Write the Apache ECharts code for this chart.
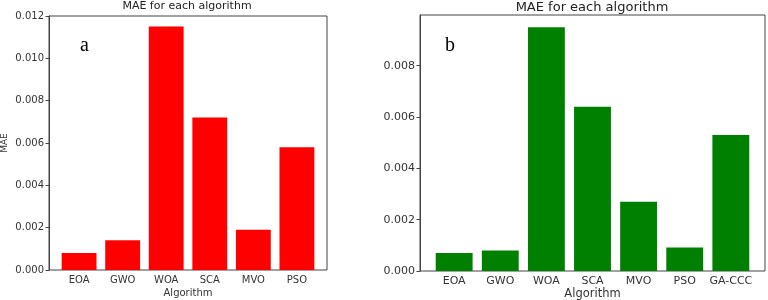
<!DOCTYPE html>
<html>
<head>
<meta charset="utf-8">
<script src="https://cdn.jsdelivr.net/npm/echarts@6/dist/echarts.min.js"></script>
<style>
  html, body { margin: 0; padding: 0; background: #fff; }
  #main { width: 768px; height: 300px; }
</style>
</head>
<body>
<div id="main"></div>
<script>
// panel a
var catsA = ['EOA', 'GWO', 'WOA', 'SCA', 'MVO', 'PSO'];
var maeA = [0.0008, 0.0014, 0.0115, 0.0072, 0.0019, 0.0058];
// panel b
var catsB = ['EOA', 'GWO', 'WOA', 'SCA', 'MVO', 'PSO', 'GA-CCC'];
var maeB = [0.0007, 0.0008, 0.0095, 0.0064, 0.0027, 0.00092, 0.0053];

var font = 'DejaVu Sans';
var frame = '#444';

function fmt(v) {
  // only show labels on 0.002 steps
  var k = Math.round(v / 0.002);
  if (Math.abs(k * 0.002 - v) > 1e-9) return '';
  return v.toFixed(3);
}

var chart = echarts.init(document.getElementById('main'));
chart.setOption({
  animation: false,
  backgroundColor: '#fff',
  textStyle: { fontFamily: font },
  title: [
    { text: 'MAE for each algorithm', left: 187, top: 1, padding: 0, textAlign: 'center',
      textStyle: { fontSize: 11, fontWeight: 'normal', color: '#222', fontFamily: font } },
    { text: 'MAE for each algorithm', left: 592, top: 1, padding: 0, textAlign: 'center',
      textStyle: { fontSize: 13, fontWeight: 'normal', color: '#222', fontFamily: font } }
  ],
  graphic: [
    { type: 'text', left: 80, top: 36, style: { text: 'a', font: '20px "Liberation Serif"', fill: '#000' } },
    { type: 'text', left: 445, top: 36, style: { text: 'b', font: '20px "Liberation Serif"', fill: '#000' } }
  ],
  grid: [
    { left: 49, top: 16, width: 278, height: 254, show: true, borderColor: frame, borderWidth: 1,
      backgroundColor: 'transparent', outerBoundsMode: 'none' },
    { left: 57.3, top: 16, width: 261.4, height: 254, outerBoundsMode: 'none' },
    { left: 420, top: 15, width: 345, height: 256, show: true, borderColor: frame, borderWidth: 1,
      backgroundColor: 'transparent', outerBoundsMode: 'none' },
    { left: 431.1, top: 15, width: 322.8, height: 256, outerBoundsMode: 'none' }
  ],
  xAxis: [
    { gridIndex: 0, type: 'value', show: false },
    { gridIndex: 1, type: 'category', data: catsA,
      axisLine: { show: false },
      axisTick: { alignWithLabel: true, length: 3.5, lineStyle: { color: frame } },
      axisLabel: { interval: 0, fontSize: 10, color: '#333', margin: 5 },
      name: 'Algorithm', nameLocation: 'middle', nameGap: 18, nameMoveOverlap: false,
      nameTextStyle: { fontSize: 10, color: '#333' } },
    { gridIndex: 2, type: 'value', show: false },
    { gridIndex: 3, type: 'category', data: catsB,
      axisLine: { show: false },
      axisTick: { alignWithLabel: true, length: 3.5, lineStyle: { color: frame } },
      axisLabel: { interval: 0, fontSize: 11, color: '#333', margin: 5 },
      name: 'Algorithm', nameLocation: 'middle', nameGap: 17, nameMoveOverlap: false,
      nameTextStyle: { fontSize: 11.5, color: '#333' } }
  ],
  yAxis: [
    { gridIndex: 0, type: 'value', min: 0, max: 0.012, interval: 0.002,
      axisLine: { show: true, lineStyle: { color: frame } },
      axisTick: { show: true, length: 3.5, lineStyle: { color: frame } },
      axisLabel: { fontSize: 10, color: '#333', margin: 5, formatter: fmt },
      splitLine: { show: false },
      name: 'MAE', nameLocation: 'middle', nameGap: 40,
      nameTextStyle: { fontSize: 9, color: '#333' } },
    { gridIndex: 1, type: 'value', min: 0, max: 0.012, show: false, splitLine: { show: false } },
    { gridIndex: 2, type: 'value', min: 0, max: 0.009975, interval: 0.002,
      axisLine: { show: true, lineStyle: { color: frame } },
      axisTick: { show: true, length: 3.5, lineStyle: { color: frame } },
      axisLabel: { fontSize: 11, color: '#333', margin: 5, formatter: fmt, showMaxLabel: false },
      splitLine: { show: false } },
    { gridIndex: 3, type: 'value', min: 0, max: 0.009975, show: false, splitLine: { show: false } }
  ],
  series: [
    { type: 'bar', xAxisIndex: 1, yAxisIndex: 1, data: maeA, barWidth: '80%',
      itemStyle: { color: '#ff0000' } },
    { type: 'bar', xAxisIndex: 3, yAxisIndex: 3, data: maeB, barWidth: '80%',
      itemStyle: { color: '#008000' } }
  ]
});
</script>
</body>
</html>
